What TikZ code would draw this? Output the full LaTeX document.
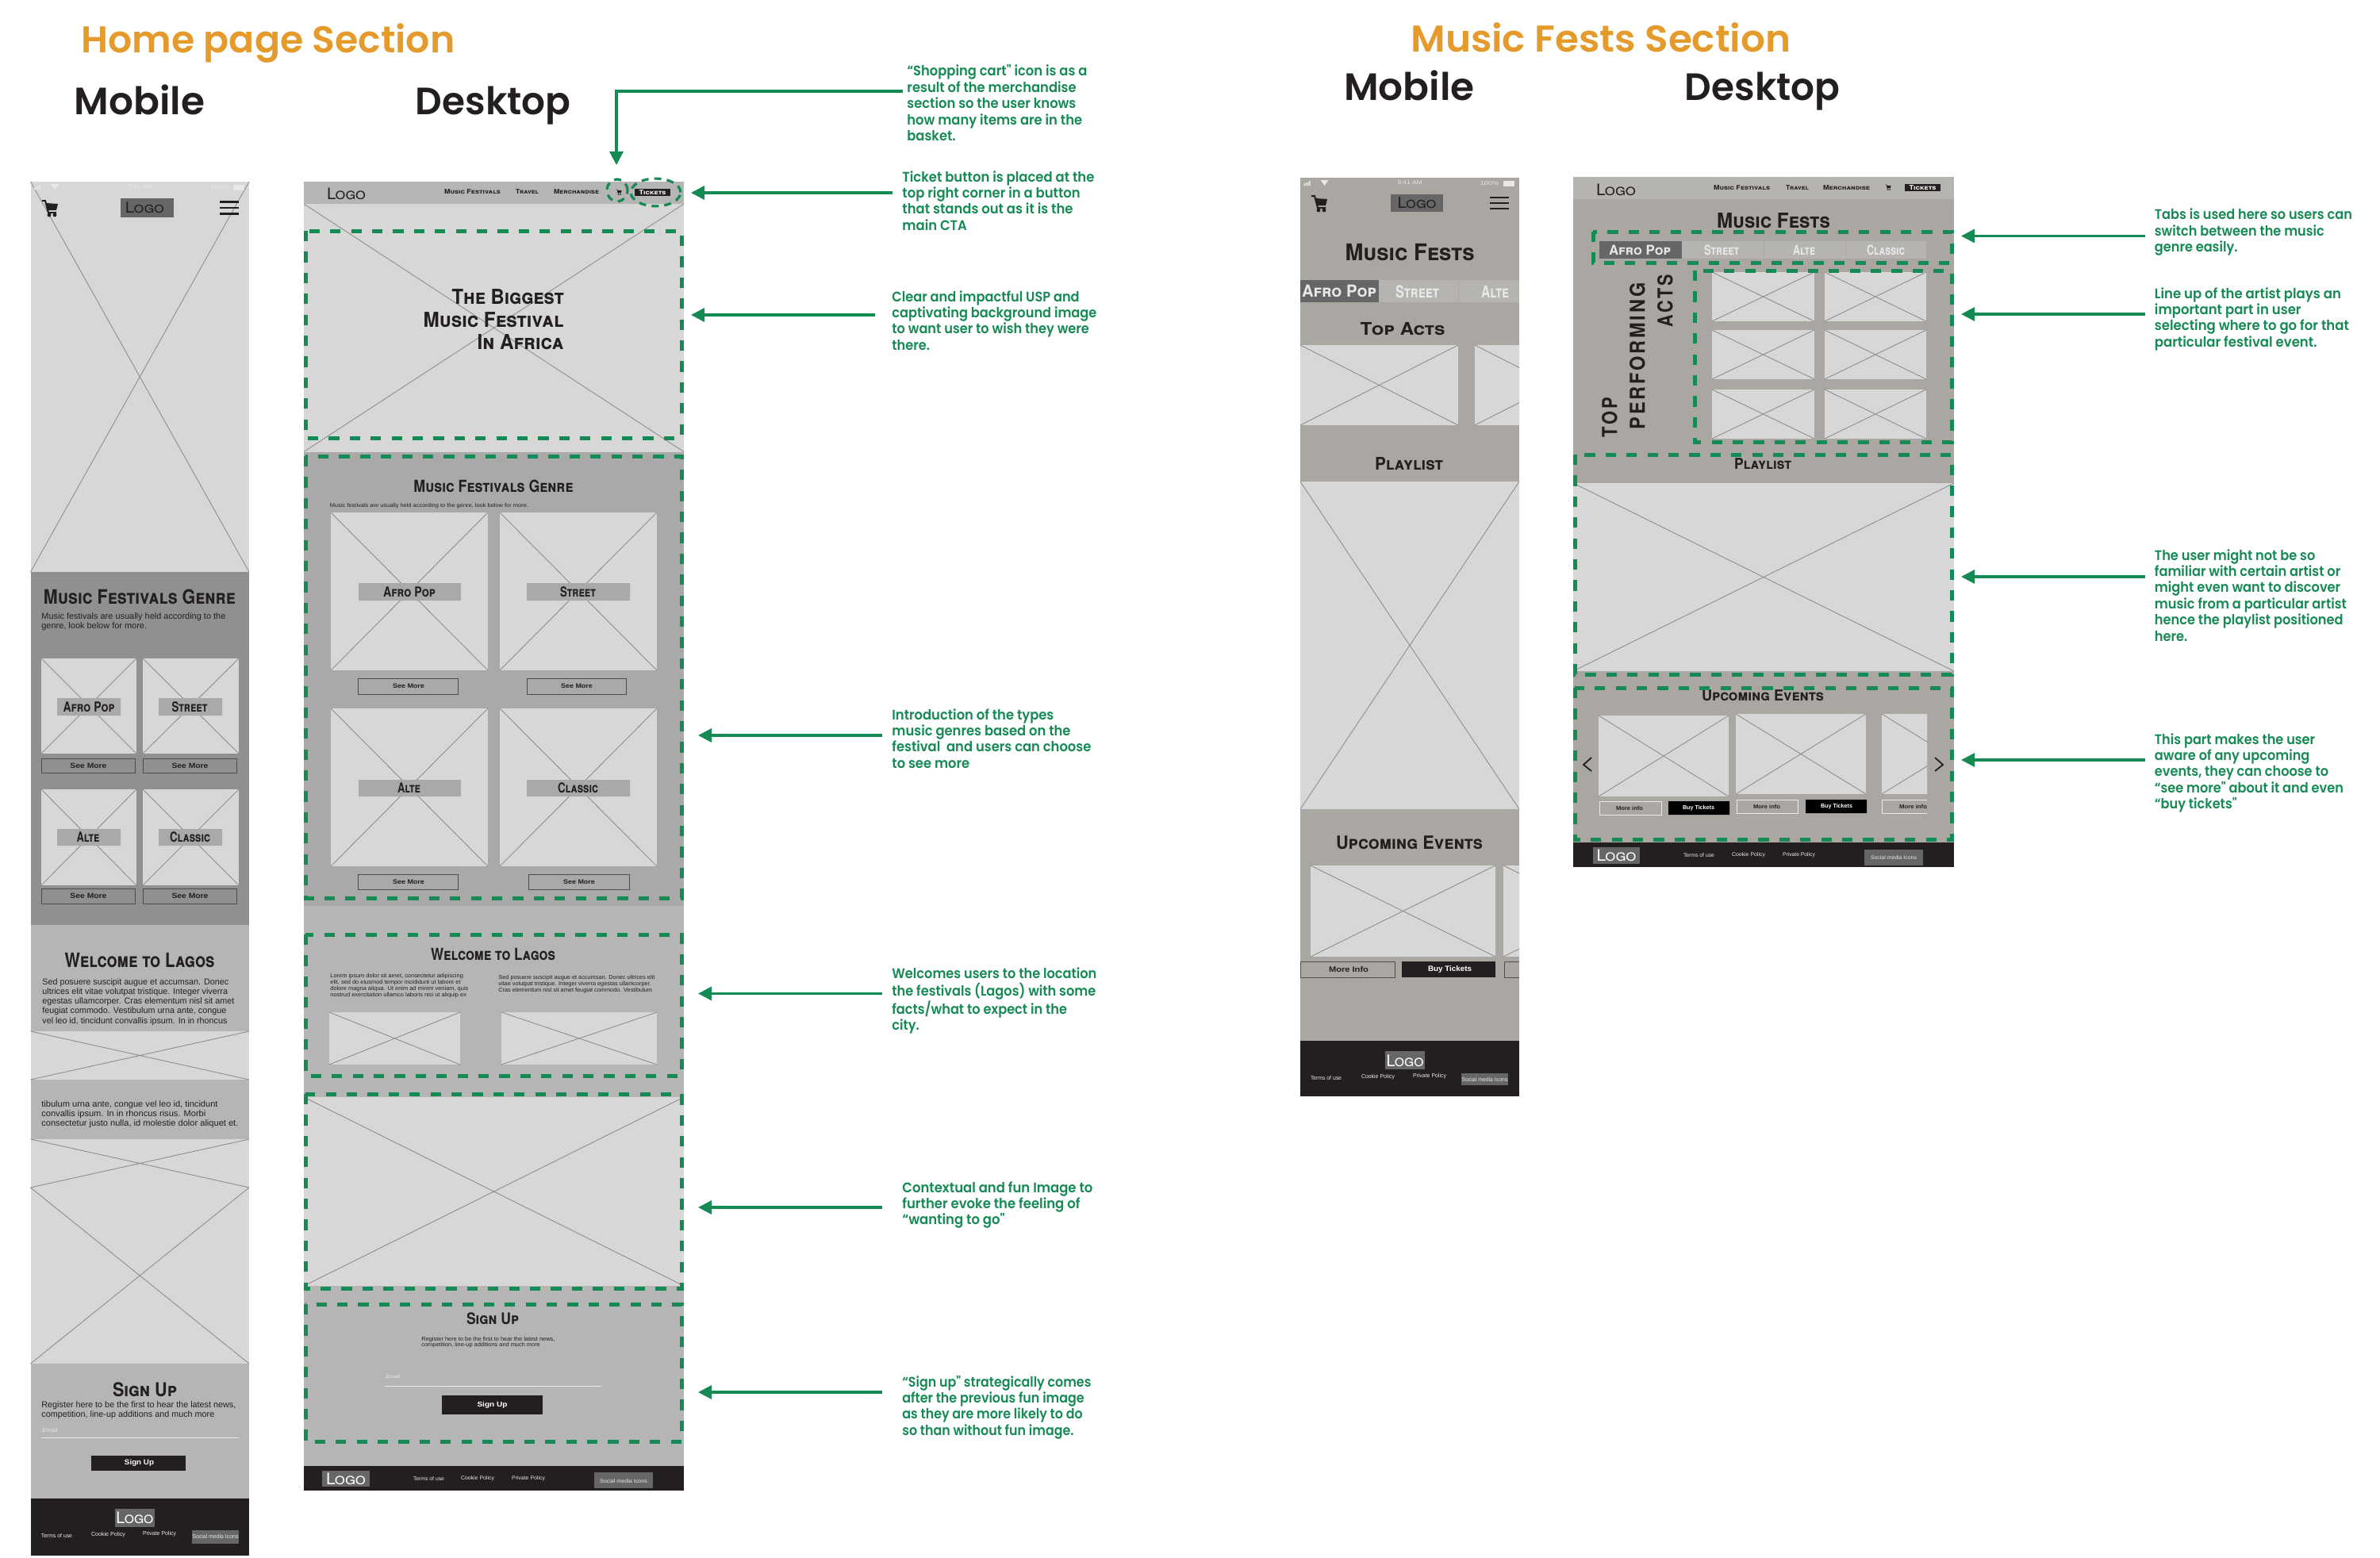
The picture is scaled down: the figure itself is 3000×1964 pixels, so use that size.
\documentclass[tikz,border=0pt]{standalone}
\usepackage{fontspec}
\usepackage{graphicx}
\usetikzlibrary{arrows.meta}
\newfontfamily\futfont{Poppins SemiBold}
\newfontfamily\wfont[Letters=SmallCaps]{TeX Gyre Heros}
\newfontfamily\upfont[LetterSpace=12]{TeX Gyre Heros}
\newfontfamily\nsfont{Liberation Sans}
\definecolor{ink}{HTML}{231F20}
\definecolor{grn}{HTML}{168A55}
\definecolor{org}{HTML}{E59A2C}
\definecolor{imgc}{HTML}{D7D7D7}
\definecolor{xln}{HTML}{8E8E8E}
\definecolor{sa}{HTML}{B5B5B5}
\definecolor{sb}{HTML}{A9A9A9}
\definecolor{sc}{HTML}{909090}
\definecolor{wa}{HTML}{AAA7A3}
\definecolor{wb}{HTML}{B6B4B1}
\definecolor{lg}{HTML}{666666}
\definecolor{pale}{HTML}{E8E8E8}
\newlength\uu \setlength\uu{.5pt}
\newcount\nn
\newcommand\tw[2]{\resizebox{#1\uu}{\height}{#2}}
\newcommand\tx[5][]{\global\advance\nn by 1 \node[txt,#1] (t\the\nn) at (#2,#3) {\tw{#4}{#5}};}
\newcommand\ml[1]{\begin{tabular}[t]{@{}l@{}}#1\end{tabular}}
\newcommand\ann[6]{\node[annot,inner xsep=#4\uu] (#1) at (#2-#4,#3+6) {\tw{#5}{\ml{#6}}};}
\newcommand\imgx[4]{\fill[imgc] (#1,#2) rectangle (#3,#4); \draw[xl] (#1,#2)--(#3,#4) (#1,#4)--(#3,#2);}
\newcommand\imgcr[5]{\begin{scope}\clip (#1,#2) rectangle (#5,#4); \imgx{#1}{#2}{#3}{#4}\end{scope}}
\newcommand\cart[3]{\begin{scope}[shift={(#1,#2)},scale=#3]
  \draw[ink,line width=#3pt] (-10,-9)--(-6,-9)--(-2,6)--(8,6);
  \fill[ink] (-5,-6)--(10,-5)--(8,3)--(-3,3)--cycle;
  \fill[ink] (-1,9) circle[radius=1.2pt] (6,9) circle[radius=1.2pt];
\end{scope}}
\newcommand\burger[4]{\draw[ink,line width=1.1pt] (#1,#3)--(#2,#3) (#1,{#3+#4})--(#2,{#3+#4}) (#1,{#3+2*#4})--(#2,{#3+2*#4});}
\newcommand\stat[3]{\begin{scope}[shift={(#1,#2)}]
  \fill[#3] (43,236) rectangle (45,239) (46,235) rectangle (48,239) (49,233) rectangle (51,239);
  \fill[#3] (64,232)--(74,232)--(69,239)--cycle;
  \fill[#3] (294,232.5) rectangle (308,239.5);
  \tx[sf=3.4,text=#3]{176.5}{235}{31}{9:41 AM}
  \tx[sf=3.4,text=#3]{277}{236}{24}{100\%}
\end{scope}}
\tikzset{
  txt/.style={inner sep=0pt,text=ink},
  wt/.style={font=\wfont\bfseries\fontsize{#1}{#1}\selectfont},
  wl/.style={font=\wfont\fontsize{#1}{#1}\selectfont},
  up/.style={font=\upfont\bfseries\fontsize{#1}{#1}\selectfont},
  sf/.style={font=\nsfont\fontsize{#1}{#1}\selectfont},
  sfb/.style={font=\nsfont\bfseries\fontsize{#1}{#1}\selectfont},
  mls/.style 2 args={font=\nsfont\fontsize{#1}{#2}\selectfont,anchor=base west},
  headf/.style={font=\futfont\fontsize{#1}{#1}\selectfont,anchor=base west},
  annot/.style={inner ysep=0pt,text=grn,anchor=base west,font=\futfont\fontsize{8.8}{10.2}\selectfont},
  xl/.style={xln,line width=.45pt},
  dbox/.style={grn,line width=2.5pt,dash pattern=on 6.6pt off 6.6pt},
  dell/.style={grn,line width=1.6pt,dash pattern=on 4.5pt off 3.5pt},
  arr/.style={grn,line width=1.6pt,-{Triangle[length=8.5pt,width=8.5pt]}},
  bout/.style={draw=ink!80,line width=.5pt},
}
\begin{document}
\begin{tikzpicture}[x=.5pt,y=-.5pt]
\useasboundingbox[fill=white] (0,0) rectangle (3000,1964);
% ---- headings
\tx[headf=23.5,text=org]{102}{66.5}{471}{Home page Section}
\tx[headf=24]{93.5}{144.5}{164.5}{Mobile}
\tx[headf=24]{523.5}{144.5}{195.5}{Desktop}
\tx[headf=23.5,text=org]{1778}{66}{479}{Music Fests Section}
\tx[headf=24]{1693.6}{126.5}{164.5}{Mobile}
\tx[headf=24]{2123.5}{126.5}{195.5}{Desktop}

% ======== HOME MOBILE
\imgx{38.5}{229}{314}{721}
\stat{0}{0}{pale}
\cart{63}{262}{1}
\fill[lg] (152,250) rectangle (219,274);
\tx[wl=9.5,text=ink]{182.5}{262}{49}{Logo}
\burger{277}{301}{254.5}{7.5}
\fill[sc] (38.5,721) rectangle (314,1166);
\tx[wt=12.5]{176}{752}{242}{Music Festivals Genre}
\tx[mls={5.4}{6.1}]{52}{780}{232}{\ml{Music festivals are usually held according to the\\genre, look below for more.}}
\foreach \xa/\xb in {52/172,180/301}{\foreach \ya/\yb in {830/950,995/1116}{\imgx{\xa}{\ya}{\xb}{\yb}}}
\fill[sb] (72,880) rectangle (152,902) (200,880) rectangle (280,902) (72,1045) rectangle (152,1066) (200,1045) rectangle (280,1066);
\tx[wt=8.7]{112}{891}{65}{Afro Pop}
\tx[wt=8.7]{239}{891}{45}{Street}
\tx[wt=8.7]{111}{1055.5}{29}{Alte}
\tx[wt=8.7]{239.5}{1055.5}{51}{Classic}
\draw[bout] (52,956) rectangle (170,974) (180,956) rectangle (298,974) (52,1120) rectangle (170,1139) (180,1120) rectangle (298,1139);
\tx[sfb=4.6]{111.5}{965}{46}{See More}
\tx[sfb=4.6]{239.5}{965}{46}{See More}
\tx[sfb=4.6]{111.5}{1129.5}{46}{See More}
\tx[sfb=4.6]{239.5}{1129.5}{46}{See More}
\fill[sa] (38.5,1166) rectangle (314,1889);
\tx[wt=12.5]{176}{1210}{189}{Welcome to Lagos}
\tx[mls={5.4}{6.15}]{53}{1241}{242}{\ml{Sed posuere suscipit augue et accumsan. Donec\\ultrices elit vitae volutpat tristique. Integer viverra\\egestas ullamcorper. Cras elementum nisl sit amet\\feugiat commodo. Vestibulum urna ante, congue\\vel leo id, tincidunt convallis ipsum. In in rhoncus}}
\imgx{38.5}{1300}{314}{1361}
\tx[mls={5.4}{6.1}]{52}{1395}{248}{\ml{tibulum urna ante, congue vel leo id, tincidunt\\convallis ipsum. In in rhoncus risus. Morbi\\consectetur justo nulla, id molestie dolor aliquet et.}}
\imgx{38.5}{1436}{314}{1497}
\imgx{38.5}{1497}{314}{1719}
\tx[wt=12]{182.5}{1752}{81}{Sign Up}
\tx[mls={5.4}{6.1}]{52}{1774}{245}{\ml{Register here to be the first to hear the latest news,\\competition, line-up additions and much more}}
\tx[sf=3.6,text=pale,anchor=west]{53}{1803}{19}{Email}
\draw[pale,line width=.3pt] (52,1812)--(301,1812);
\fill[ink] (115,1834.5) rectangle (234,1853.5);
\tx[sfb=4.6,text=white]{175.5}{1844}{37}{Sign Up}
\fill[ink] (38.5,1889) rectangle (314,1961);
\fill[lg] (145,1902) rectangle (195,1925);
\tx[wl=10,text=white]{170}{1913.5}{47}{Logo}
\tx[sf=3.6,text=pale]{71.5}{1936}{39}{Terms of use}
\tx[sf=3.6,text=pale]{136.5}{1935}{43}{Cookie Policy}
\tx[sf=3.6,text=pale]{201}{1934}{42}{Private Policy}
\fill[lg] (242,1929) rectangle (301,1946);
\tx[sf=3.6,text=pale]{271.5}{1937}{58}{Social media Icons}

% ======== HOME DESKTOP
\fill[sa] (383,229) rectangle (862,1879);
\imgx{383}{257}{862}{569.5}
\fill[sa] (383,229) rectangle (862,257);
\tx[wl=10]{436.5}{244}{49}{Logo}
\tx[wt=4]{595.5}{242}{71}{Music Festivals}
\tx[wt=4]{664.5}{242}{29}{Travel}
\tx[wt=4]{726.5}{242}{57}{Merchandise}
\cart{780}{242}{.35}
\fill[ink] (800,238) rectangle (845,247);
\tx[wt=4,text=white]{822.5}{242.5}{34}{Tickets}
\tx[wt=13,anchor=east]{711}{374}{141}{The Biggest}
\tx[wt=13,anchor=east]{711}{403}{177}{Music Festival}
\tx[wt=13,anchor=east]{711}{431}{109}{In Africa}
\fill[sb] (383,569.5) rectangle (862,1142);
\tx[wt=10.4]{622}{613}{201}{Music Festivals Genre}
\tx[sf=3.4]{541}{638}{250}{Music festivals are usually held according to the genre, look below for more.}
\foreach \xa/\xb in {417/615,630/828}{\foreach \ya/\yb in {646/845,893/1092}{\imgx{\xa}{\ya}{\xb}{\yb}}}
\fill[sb] (452,735) rectangle (581,757) (664,735) rectangle (794,757) (452,983) rectangle (581,1004) (664,983) rectangle (794,1004);
\tx[wt=8.7]{516}{746}{66}{Afro Pop}
\tx[wt=8.7]{728.5}{746}{45}{Street}
\tx[wt=8.7]{515.5}{993.5}{29}{Alte}
\tx[wt=8.7]{728.5}{993.5}{51}{Classic}
\draw[bout] (451,855) rectangle (577,875) (664,855) rectangle (789,875) (451,1102) rectangle (577,1121) (666,1102) rectangle (793,1121);
\tx[sfb=4]{515}{865}{40}{See More}
\tx[sfb=4]{727}{865}{40}{See More}
\tx[sfb=4]{515}{1111.5}{40}{See More}
\tx[sfb=4]{730}{1111.5}{40}{See More}
\tx[wt=10.4]{621.5}{1203}{157}{Welcome to Lagos}
\tx[mls={3.6}{4}]{416}{1232}{174}{\ml{Lorem ipsum dolor sit amet, consectetur adipiscing\\elit, sed do eiusmod tempor incididunt ut labore et\\dolore magna aliqua. Ut enim ad minim veniam, quis\\nostrud exercitation ullamco laboris nisi ut aliquip ex}}
\tx[mls={3.6}{4}]{628}{1234}{197}{\ml{Sed posuere suscipit augue et accumsan. Donec ultrices elit\\vitae volutpat tristique. Integer viverra egestas ullamcorper.\\Cras elementum nisl sit amet feugiat commodo. Vestibulum}}
\imgx{415}{1276}{580}{1342}
\imgx{632}{1276}{828}{1342}
\imgx{383}{1383}{862}{1621}
\tx[wt=10]{621}{1662}{66}{Sign Up}
\tx[mls={3.6}{3.8}]{531}{1690}{168}{\ml{Register here to be the first to hear the latest news,\\competition, line-up additions and much more}}
\tx[sf=3,text=pale,anchor=west]{486}{1735}{18}{Email}
\draw[pale,line width=.3pt] (485,1747)--(758,1747);
\fill[ink] (557,1759) rectangle (684,1783);
\tx[sfb=4.4,text=white]{620.5}{1771}{38}{Sign Up}
\fill[ink] (383,1848) rectangle (862,1879);
\fill[lg] (406,1854) rectangle (466,1874);
\tx[wl=10,text=white]{436}{1864}{50}{Logo}
\tx[sf=3.4,text=pale]{540.5}{1864}{39}{Terms of use}
\tx[sf=3.4,text=pale]{602}{1864}{42}{Cookie Policy}
\tx[sf=3.4,text=pale]{666}{1864}{42}{Private Policy}
\fill[lg] (749,1856) rectangle (823,1876);
\tx[sf=3.4,text=pale]{786}{1867}{60}{Social media Icons}
% dashed call-outs, home
\draw[dell] (778,240) ellipse[x radius=6.5pt,y radius=7pt];
\draw[dell] (826.5,242.5) ellipse[x radius=15.7pt,y radius=8.7pt];
\draw[dbox] (385,291) rectangle (859,552);
\draw[dbox] (385,575) rectangle (859,1132);
\draw[dbox] (385,1178) rectangle (859,1356);
\draw[dbox] (385,1379) rectangle (859,1624);
\draw[dbox] (385,1644) rectangle (859,1817);

% ======== FESTS MOBILE
\fill[wa] (1639,224) rectangle (1915,1382);
\stat{1600.5}{-5}{pale}
\cart{1663}{256}{1}
\fill[lg] (1753,245) rectangle (1819,267);
\tx[wl=9.5,text=ink]{1786}{256}{49}{Logo}
\burger{1878}{1902}{249}{7}
\tx[wt=14.5]{1777}{318}{163}{Music Fests}
\fill[lg] (1639,353) rectangle (1738,381);
\fill[wb] (1738,353) rectangle (1915,381);
\draw[wa,line width=.4pt] (1838,353)--(1838,381);
\tx[wt=10.5,text=pale]{1688}{367}{94}{Afro Pop}
\tx[wt=10.5,text=pale]{1786.5}{368}{55}{Street}
\tx[wt=10.5,text=pale]{1884.5}{368}{35}{Alte}
\tx[wt=11]{1768}{415}{107}{Top Acts}
\imgx{1639}{435}{1838}{536}
\imgcr{1859}{435}{2058}{536}{1915}
\tx[wt=11]{1776}{585}{86}{Playlist}
\imgx{1639}{607}{1915}{1020}
\tx[wt=11.5]{1776.5}{1062}{185}{Upcoming Events}
\imgx{1652}{1091}{1885}{1206}
\imgcr{1895}{1091}{2128}{1206}{1915}
\draw[bout] (1639,1212) rectangle (1758,1232);
\draw[bout] (1915,1212)--(1896,1212)--(1896,1232)--(1915,1232);
\fill[ink] (1767,1212) rectangle (1885,1232);
\tx[sfb=4.8]{1700}{1222}{50}{More Info}
\tx[sfb=4.8,text=white]{1827.5}{1222}{55}{Buy Tickets}
\fill[ink] (1639,1312) rectangle (1915,1382);
\fill[lg] (1746,1325) rectangle (1796,1348);
\tx[wl=10,text=white]{1771}{1337}{47}{Logo}
\tx[sf=3.6,text=pale]{1671.5}{1359}{39}{Terms of use}
\tx[sf=3.6,text=pale]{1737}{1358}{42}{Cookie Policy}
\tx[sf=3.6,text=pale]{1802}{1357}{42}{Private Policy}
\fill[lg] (1842,1353) rectangle (1901,1368);
\tx[sf=3.6,text=pale]{1871.5}{1360.5}{58}{Social media Icons}

% ======== FESTS DESKTOP
\fill[wa] (1983,223) rectangle (2463,1093);
\fill[wb] (1983,223) rectangle (2463,251);
\tx[wl=10]{2037}{239}{50}{Logo}
\tx[wt=4]{2195.5}{237}{71}{Music Festivals}
\tx[wt=4]{2265.5}{237}{29}{Travel}
\tx[wt=4]{2327.5}{237}{59}{Merchandise}
\cart{2380}{236}{.35}
\fill[ink] (2401,232) rectangle (2446,241);
\tx[wt=4,text=white]{2423.5}{236.5}{34}{Tickets}
\tx[wt=13]{2235.5}{278}{143}{Music Fests}
\fill[lg] (2016,304) rectangle (2120,326);
\fill[wb] (2120,304) rectangle (2428,326);
\draw[wa,line width=.4pt] (2223,304)--(2223,326) (2326,304)--(2326,326);
\tx[wt=8.5,text=pale]{2067}{315}{78}{Afro Pop}
\tx[wt=8.5,text=pale]{2170}{315}{44}{Street}
\tx[wt=8.5,text=pale]{2274}{315}{28}{Alte}
\tx[wt=8.5,text=pale]{2377}{315}{48}{Classic}
\foreach \xa/\xb in {2158/2287,2300/2428}{\foreach \ya/\yb in {343/405,416/478,491/553}{\imgx{\xa}{\ya}{\xb}{\yb}}}
\tx[up=13,rotate=90]{2029}{526}{50}{TOP}
\tx[up=13,rotate=90]{2064}{449}{185}{PERFORMING}
\tx[up=13,rotate=90]{2099}{379}{66}{ACTS}
\tx[wt=9.5]{2222}{585}{72}{Playlist}
\imgx{1983}{609}{2463}{846}
\tx[wt=9.5]{2222}{877}{154}{Upcoming Events}
\imgx{2015}{902}{2179}{1004}
\imgx{2188}{900}{2352}{1001}
\imgcr{2372}{900}{2536}{1001}{2429}
\draw[line width=.4pt,draw=pale] (2016,1010) rectangle (2094,1027) (2189,1008) rectangle (2266,1025);
\draw[line width=.4pt,draw=pale] (2429,1008)--(2372,1008)--(2372,1025)--(2429,1025);
\fill[black] (2103,1010) rectangle (2180,1027) (2276,1008) rectangle (2353,1025);
\tx[sfb=3.6]{2054}{1018.5}{34}{More info}
\tx[sfb=3.6,text=white]{2141}{1018.5}{40}{Buy Tickets}
\tx[sfb=3.6]{2227}{1016.5}{34}{More info}
\tx[sfb=3.6,text=white]{2315}{1016.5}{40}{Buy Tickets}
\tx[sfb=3.6]{2411.5}{1016.5}{35}{More info}
\draw[ink,line width=.9pt] (2006,955)--(1996,964)--(2006,972);
\draw[ink,line width=.9pt] (2439,955)--(2449,964)--(2439,972);
\fill[ink] (1983,1062) rectangle (2463,1093);
\fill[lg] (2008,1068) rectangle (2067,1089);
\tx[wl=10,text=white]{2037.5}{1078}{50}{Logo}
\tx[sf=3.4,text=pale]{2141.5}{1078}{39}{Terms of use}
\tx[sf=3.4,text=pale]{2204}{1078}{42}{Cookie Policy}
\tx[sf=3.4,text=pale]{2267.5}{1078}{41}{Private Policy}
\fill[lg] (2350,1071) rectangle (2424,1091);
\tx[sf=3.4,text=pale]{2387}{1081}{58}{Social media Icons}
\draw[dbox] (2008,292) rectangle (2460,331);
\draw[dbox] (2136,341) rectangle (2460,557);
\draw[dbox] (1985,573) rectangle (2460,850);
\draw[dbox] (1985,867) rectangle (2460,1058);

% ======== ANNOTATIONS
\ann{a1}{1143}{90}{5}{227}{“Shopping cart" icon is as a\\result of the merchandise\\section so the user knows\\how many items are in the\\basket.}
\ann{a2}{1137}{223}{12}{242}{Ticket button is placed at the\\top right corner in a button\\that stands out as it is the\\main CTA}
\ann{a3}{1124}{374}{21}{258}{Clear and impactful USP and\\captivating background image\\to want user to wish they were\\there.}
\ann{a4}{1124}{901}{12}{251}{Introduction of the types\\music genres based on the\\festival~ and users can choose\\to see more}
\ann{a5}{1124}{1227}{12}{258}{Welcomes users to the location\\the festivals (Lagos) with some\\facts/what to expect in the\\city.}
\ann{a6}{1137}{1497}{25}{240}{Contextual and fun Image to\\further evoke the feeling of\\“wanting to go"}
\ann{a7}{1137}{1742}{25}{238}{“Sign up" strategically comes\\after the previous fun image\\as they are more likely to do\\so than without fun image.}
\ann{b1}{2715.5}{271}{12}{249}{Tabs is used here so users can\\switch between the music\\genre easily.}
\ann{b2}{2715.5}{370}{12}{245}{Line up of the artist plays an\\important part in user\\selecting where to go for that\\particular festival event.}
\ann{b3}{2715.5}{700}{12}{242}{The user might not be so\\familiar with certain artist or\\might even want to discover\\music from a particular artist\\hence the playlist positioned\\here.}
\ann{b4}{2715.5}{932}{12}{238}{This part makes the user\\aware of any upcoming\\events, they can choose to\\“see more" about it and even\\“buy tickets"}

\coordinate (ta1) at (777,208);
\coordinate (ka1) at (777,115);
\coordinate (ta2) at (871,243);
\coordinate (ta3) at (871,397);
\coordinate (ta4) at (880,927);
\coordinate (ta5) at (880,1252.5);
\coordinate (ta6) at (880,1522);
\coordinate (ta7) at (880,1755);
\coordinate (tb1) at (2472,297.5);
\coordinate (tb2) at (2472,396);
\coordinate (tb3) at (2472,727);
\coordinate (tb4) at (2472,958);
\draw[arr] (a1.west |- ka1) -- (ka1) -- (ta1);
\draw[arr] (a2.west |- ta2) -- (ta2);
\draw[arr] (a3.west |- ta3) -- (ta3);
\draw[arr] (a4.west |- ta4) -- (ta4);
\draw[arr] (a5.west |- ta5) -- (ta5);
\draw[arr] (a6.west |- ta6) -- (ta6);
\draw[arr] (a7.west |- ta7) -- (ta7);
\draw[arr] (b1.west |- tb1) -- (tb1);
\draw[arr] (b2.west |- tb2) -- (tb2);
\draw[arr] (b3.west |- tb3) -- (tb3);
\draw[arr] (b4.west |- tb4) -- (tb4);
\end{tikzpicture}
\end{document}
